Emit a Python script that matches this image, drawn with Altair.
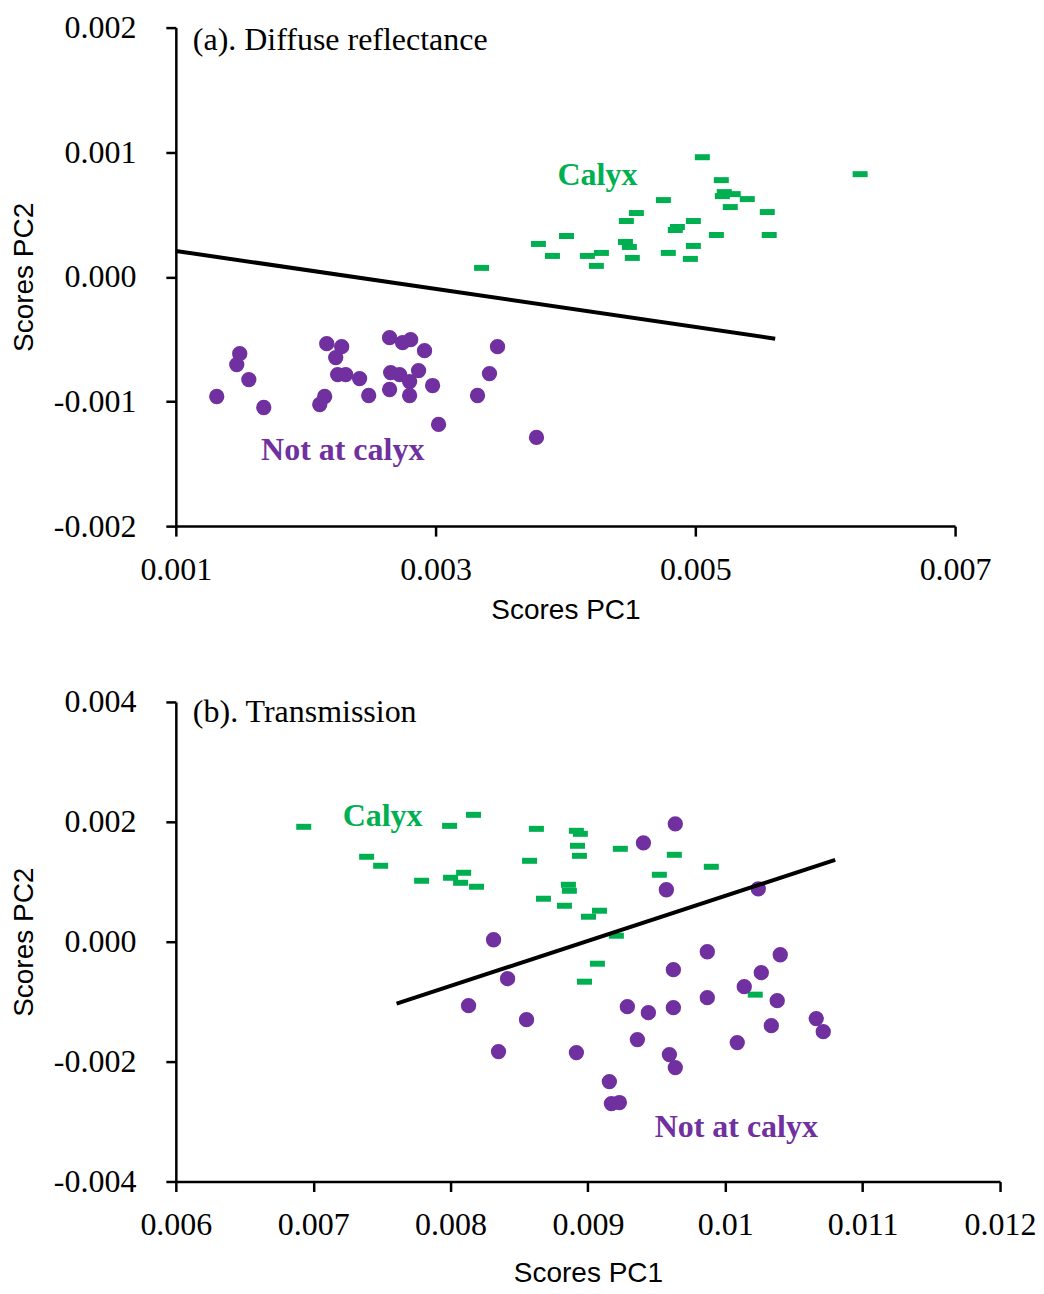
import altair as alt
import pandas as pd

# ---------------- Panel (a): Diffuse reflectance ----------------
a_calyx_x = [0.003354, 0.003792, 0.003900, 0.004008, 0.004169, 0.004277, 0.004238,
             0.004462, 0.004492, 0.004469, 0.004546, 0.004515, 0.004754, 0.004792,
             0.004846, 0.004862, 0.004962, 0.004985, 0.004985, 0.005054, 0.005162,
             0.005200, 0.005208, 0.005223, 0.005292, 0.005269, 0.005400, 0.005554,
             0.005569, 0.006269]
a_calyx_y = [0.000072, 0.000264, 0.000168, 0.000328, 0.000168, 0.000192, 0.000088,
             0.000280, 0.000240, 0.000448, 0.000512, 0.000152, 0.000616, 0.000192,
             0.000376, 0.000400, 0.000144, 0.000448, 0.000248, 0.000960, 0.000336,
             0.000776, 0.000648, 0.000680, 0.000664, 0.000560, 0.000624, 0.000520,
             0.000336, 0.000824]
a_not_x = [0.001315, 0.001492, 0.001469, 0.001562, 0.001677, 0.002162, 0.002277,
           0.002231, 0.002246, 0.002308, 0.002415, 0.002146, 0.002108, 0.002485,
           0.002646, 0.002746, 0.002808, 0.002915, 0.002654, 0.002723, 0.002800,
           0.002869, 0.002646, 0.002800, 0.002977, 0.003477, 0.003415, 0.003323,
           0.003023, 0.003777]
a_not_y = [-0.000960, -0.000616, -0.000704, -0.000824, -0.001048, -0.000536, -0.000560,
           -0.000648, -0.000784, -0.000784, -0.000816, -0.000960, -0.001024, -0.000952,
           -0.000488, -0.000528, -0.000504, -0.000592, -0.000768, -0.000784, -0.000840,
           -0.000752, -0.000904, -0.000952, -0.000872, -0.000560, -0.000776, -0.000952,
           -0.001184, -0.001288]
a_line_x = [0.001000, 0.005615]
a_line_y = [0.000208, -0.000496]

# ---------------- Panel (b): Transmission ----------------
b_calyx_x = [0.006931, 0.007389, 0.007491, 0.007789, 0.007993, 0.008000, 0.008095,
             0.008073, 0.008167, 0.008189, 0.008575, 0.008625, 0.008676, 0.008829,
             0.008858, 0.008865, 0.008916, 0.008945, 0.008924, 0.008938, 0.009004,
             0.009084, 0.009207, 0.009069, 0.008975, 0.009236, 0.009520, 0.009629,
             0.009898, 0.010218]
b_calyx_y = [0.001917, 0.001417, 0.001267, 0.001017, 0.001933, 0.001067, 0.001150,
             0.000983, 0.002117, 0.000917, 0.001350, 0.001883, 0.000717, 0.000600,
             0.000950, 0.000850, 0.001850, 0.001800, 0.001600, 0.001433, 0.000417,
             0.000517, 0.000100, -0.000367, -0.000667, 0.001550, 0.001117, 0.001450,
             0.001250, -0.000883]
b_not_x = [0.008313, 0.009636, 0.009404, 0.009571, 0.010240, 0.008415, 0.008131,
           0.008553, 0.008349, 0.008916, 0.009156, 0.009171, 0.009229, 0.009287,
           0.009440, 0.009360, 0.009622, 0.009622, 0.009869, 0.009869, 0.009593,
           0.009636, 0.010138, 0.010262, 0.010400, 0.010378, 0.010335, 0.010087,
           0.010662, 0.010713]
b_not_y = [0.000033, 0.001967, 0.001650, 0.000867, 0.000883, -0.000617, -0.001067,
           -0.001300, -0.001833, -0.001850, -0.002333, -0.002700, -0.002683, -0.001083,
           -0.001183, -0.001633, -0.001100, -0.000467, -0.000167, -0.000933, -0.001883,
           -0.002100, -0.000750, -0.000517, -0.000217, -0.000983, -0.001400, -0.001683,
           -0.001283, -0.001500]
b_line_x = [0.007607, 0.010800]
b_line_y = [-0.001033, 0.001367]

GREEN = "#00B050"
PURPLE = "#7030A0"
SERIF = "Liberation Serif"
SANS = "Liberation Sans"

Y_LABEL_EXPR = "(datum.value < 0 ? '-' : '') + format(abs(datum.value), '.3f')"


def make_panel(calyx_x, calyx_y, not_x, not_y, line_x, line_y,
               xdom, ydom, xvals, yvals, xfmt, width, height,
               title_text, title_pos, calyx_pos, not_pos, x_title_pad):
    def X():
        return alt.X("x:Q",
                     scale=alt.Scale(domain=xdom, nice=False, zero=False),
                     axis=alt.Axis(values=xvals,
                                   labelExpr="format(datum.value, '%s')" % xfmt,
                                   title="Scores PC1", titlePadding=x_title_pad,
                                   labelPadding=18, labelFlush=False,
                                   labelOverlap=False))

    def Y():
        return alt.Y("y:Q",
                     scale=alt.Scale(domain=ydom, nice=False, zero=False),
                     axis=alt.Axis(values=yvals, labelExpr=Y_LABEL_EXPR,
                                   title="Scores PC2", titlePadding=15,
                                   labelPadding=30, labelOverlap=False))

    calyx_df = pd.DataFrame({"x": calyx_x, "y": calyx_y})
    not_df = pd.DataFrame({"x": not_x, "y": not_y})
    line_df = pd.DataFrame({"x": line_x, "y": line_y})

    calyx = alt.Chart(calyx_df).mark_tick(
        orient="horizontal", size=15, thickness=6, color=GREEN, opacity=1
    ).encode(x=X(), y=Y())
    notc = alt.Chart(not_df).mark_circle(
        size=235, color=PURPLE, opacity=1
    ).encode(x=X(), y=Y())
    line = alt.Chart(line_df).mark_line(
        color="black", strokeWidth=4
    ).encode(x=X(), y=Y())

    t1 = alt.Chart(pd.DataFrame({"x": [title_pos[0]], "y": [title_pos[1]], "t": [title_text]})).mark_text(
        align="left", baseline="middle", font=SERIF, fontSize=32, color="black"
    ).encode(x=X(), y=Y(), text="t:N")
    t2 = alt.Chart(pd.DataFrame({"x": [calyx_pos[0]], "y": [calyx_pos[1]], "t": ["Calyx"]})).mark_text(
        align="center", baseline="middle", font=SERIF, fontSize=32, fontWeight="bold", color=GREEN
    ).encode(x=X(), y=Y(), text="t:N")
    t3 = alt.Chart(pd.DataFrame({"x": [not_pos[0]], "y": [not_pos[1]], "t": ["Not at calyx"]})).mark_text(
        align="center", baseline="middle", font=SERIF, fontSize=32, fontWeight="bold", color=PURPLE
    ).encode(x=X(), y=Y(), text="t:N")

    return alt.layer(calyx, notc, line, t1, t2, t3).properties(width=width, height=height)


panel_a = make_panel(
    a_calyx_x, a_calyx_y, a_not_x, a_not_y, a_line_x, a_line_y,
    xdom=[0.001, 0.007], ydom=[-0.002, 0.002],
    xvals=[0.001, 0.003, 0.005, 0.007],
    yvals=[-0.002, -0.001, 0.0, 0.001, 0.002],
    xfmt=".3f", width=780, height=499,
    title_text="(a). Diffuse reflectance", title_pos=(0.001131, 0.001904),
    calyx_pos=(0.004246, 0.000816), not_pos=(0.002285, -0.001392),
    x_title_pad=11,
)

panel_b = make_panel(
    b_calyx_x, b_calyx_y, b_not_x, b_not_y, b_line_x, b_line_y,
    xdom=[0.006, 0.012], ydom=[-0.004, 0.004],
    xvals=[0.006, 0.007, 0.008, 0.009, 0.01, 0.011, 0.012],
    yvals=[-0.004, -0.002, 0.0, 0.002, 0.004],
    xfmt=".3~f", width=825, height=480,
    title_text="(b). Transmission", title_pos=(0.006124, 0.003833),
    calyx_pos=(0.007505, 0.0021), not_pos=(0.01008, -0.003083),
    x_title_pad=19,
)

chart = alt.vconcat(panel_a, panel_b, spacing=62).properties(
    padding={"left": 2, "top": 3, "right": 0, "bottom": 0}
).configure_view(stroke=None).configure_axis(
    grid=False,
    domainColor="black", domainWidth=2.5,
    tickColor="black", tickWidth=2.5, tickSize=10,
    labelFont=SERIF, labelFontSize=32, labelColor="black",
    titleFont=SANS, titleFontSize=28, titleFontWeight="normal", titleColor="black",
)

chart.save("out.html", embed_options={"renderer": "svg", "actions": False})
